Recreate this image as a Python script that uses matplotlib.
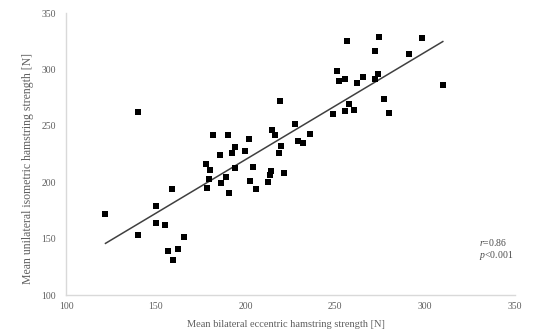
import numpy as np
import matplotlib
matplotlib.use("Agg")
import matplotlib.pyplot as plt

# Mean bilateral eccentric strength [N] (x) vs unilateral isometric strength [N] (y)
eccentric = [122, 140, 140, 150, 150, 155, 157, 159.6, 162.4, 166,
             159, 178, 180, 179.4, 178.8, 181.7, 185.6, 186.6, 188.9, 190,
             190.6, 192.6, 194, 194, 199.7, 201.9, 202.4, 203.9, 205.8, 212.5,
             213.6, 214.1, 215, 216.6, 218.6, 219.2, 220, 221.2, 227.5, 229,
             231.8, 236, 248.7, 251.2, 252.2, 255.3, 255.5, 256.8, 257.4, 260.7,
             262.2, 265.7, 272.2, 272.2, 273.7, 274.3, 277.2, 280, 290.8, 298.2,
             309.9]
isometric = [172, 262, 153, 179, 164, 162, 139, 131, 140.6, 151,
             194, 216, 211, 203, 195, 242, 224, 199, 205, 242,
             190.4, 226, 231, 213, 228, 238, 201, 213.6, 194, 200,
             206, 209.8, 246.5, 242.3, 226, 271.7, 232, 208, 252, 236.7,
             235.2, 242.6, 260.4, 299, 289.8, 291.6, 263, 325.7, 269.6, 264,
             288, 293.6, 316, 292, 296.4, 328.6, 273.8, 261, 313.5, 327.8,
             286]

x_ticks = [100, 150, 200, 250, 300, 350]
y_ticks = [100, 150, 200, 250, 300, 350]

grey = "#5f5f5f"
plt.rcParams["font.family"] = ["Liberation Serif", "DejaVu Serif"]
plt.rcParams["mathtext.fontset"] = "custom"
plt.rcParams["mathtext.rm"] = "Liberation Serif"
plt.rcParams["mathtext.it"] = "Liberation Serif:italic"

fig = plt.figure(figsize=(5.5, 3.36), dpi=100)
ax = fig.add_axes([0.12, 0.122, 0.816, 0.839])

ax.scatter(eccentric, isometric, marker="s", s=14, color="black",
           linewidths=0, zorder=3)

# least-squares trend line over the data range
slope, intercept = np.polyfit(eccentric, isometric, 1)
fit_x = np.array([min(eccentric), max(eccentric)])
ax.plot(fit_x, slope * fit_x + intercept, color="#404040", lw=1.1, zorder=2)

ax.set_xlim(100, 350)
ax.set_ylim(100, 350)
ax.set_xticks(x_ticks)
ax.set_yticks(y_ticks)
ax.tick_params(length=0, labelsize=7, labelcolor=grey)
ax.tick_params(axis="x", pad=5)
ax.tick_params(axis="y", pad=7)

for side in ["top", "right"]:
    ax.spines[side].set_visible(False)
for side in ["left", "bottom"]:
    ax.spines[side].set_color("#d9d9d9")
    ax.spines[side].set_linewidth(1.0)

ax.set_xlabel("Mean bilateral eccentric hamstring strength [N]",
              fontsize=7.5, color=grey)
ax.set_ylabel("Mean unilateral isometric hamstring strength [N]",
              fontsize=8.5, color=grey)
ax.xaxis.set_label_coords(0.49, -0.088)
ax.yaxis.set_label_coords(-0.072, 0.45)

ax.text(0.92, 0.163, "$r$=0.86\n$p$<0.001", transform=ax.transAxes,
        fontsize=7, color="#4a4a4a", va="center", ha="left", linespacing=1.1)

fig.savefig("out.png", dpi=100)
